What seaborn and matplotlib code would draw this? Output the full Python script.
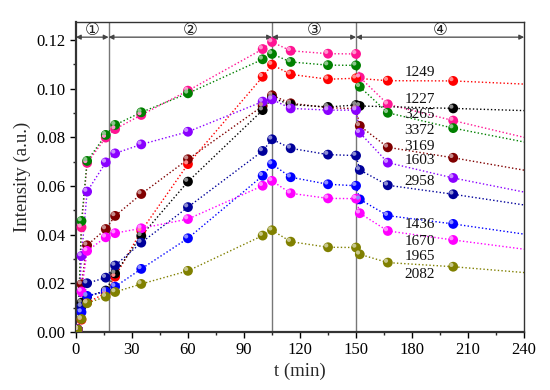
import numpy as np
import pandas as pd
import matplotlib
matplotlib.use("Agg")
import matplotlib.pyplot as plt
import seaborn as sns
from matplotlib.transforms import offset_copy
from matplotlib.ticker import MultipleLocator

nan = np.nan
t = [1, 3, 6, 16, 21, 35, 60, 100, 105, 115, 135, 150, 152, 167, 202, 240]

pink    = [0.001, 0.043, 0.0695, 0.0799, 0.0834, 0.0892, 0.0992, 0.1163, 0.1192, 0.1156, 0.1144, 0.1143, 0.1047, 0.0936, 0.0869, 0.0800]
green   = [0.001, 0.0456, 0.0703, 0.0810, 0.0851, 0.0903, 0.0981, 0.1121, 0.1143, 0.1110, 0.1097, 0.1096, 0.1008, 0.0901, 0.0838, 0.0781]
red     = [0.001, 0.005, 0.012, 0.016, 0.0227, 0.0415, 0.0690, 0.1049, 0.1099, 0.1059, 0.1039, 0.1043, nan, 0.1033, 0.1032, 0.1019]
brown   = [0.001, 0.0196, 0.0356, 0.0423, 0.0477, 0.0567, 0.0710, 0.0929, 0.0973, 0.0940, 0.0922, 0.0918, 0.0847, 0.0759, 0.0716, 0.0665]
black   = [0.001, 0.012, 0.0145, 0.017, 0.024, 0.0395, 0.0618, 0.0912, 0.0962, 0.0935, 0.0925, 0.0933, 0.0929, nan, 0.0919, 0.0910]
purple  = [0.001, 0.0312, 0.0577, 0.0697, 0.0734, 0.0771, 0.0823, 0.0947, 0.0956, 0.0919, 0.0912, 0.0912, 0.0819, 0.0696, 0.0633, 0.0575]
navy    = [0.001, 0.0104, 0.0200, 0.0223, 0.0273, 0.0367, 0.0513, 0.0744, 0.0792, 0.0755, 0.0729, 0.0725, 0.0666, 0.0603, 0.0566, 0.0522]
blue    = [0.001, 0.0081, 0.0148, 0.0166, 0.0186, 0.0259, 0.0385, 0.0642, 0.0690, 0.0636, 0.0607, 0.0601, 0.0545, 0.0478, 0.0444, 0.0402]
magenta = [0.001, 0.0166, 0.0333, 0.0389, 0.0406, 0.0426, 0.0464, 0.0601, 0.0621, 0.0570, 0.0549, 0.0548, 0.0488, 0.0415, 0.0378, 0.0340]
olive   = [0.001, 0.0053, 0.0118, 0.0145, 0.0164, 0.0197, 0.0251, 0.0396, 0.0418, 0.0371, 0.0348, 0.0347, 0.0319, 0.0285, 0.0268, 0.0244]

series = {"pink": pink, "green": green, "red": red, "brown": brown, "black": black,
          "purple": purple, "navy": navy, "blue": blue, "magenta": magenta, "olive": olive}
colors = {"pink": "#FF1493", "green": "#008000", "red": "#FF0000", "brown": "#800000",
          "black": "#000000", "purple": "#8A00FF", "navy": "#00009A", "blue": "#0000FF",
          "magenta": "#FF00FF", "olive": "#808000"}

band_labels = ["1249", "1227", "3265", "3372", "3169", "1603", "2958", "1436", "1670", "1965", "2082"]
band_y = [0.1067, 0.0956, 0.0892, 0.0827, 0.0764, 0.0704, 0.0618, 0.0442, 0.0372, 0.0310, 0.0237]
stage_labels = ["①", "②", "③", "④"]
stage_bounds = [0, 17.5, 105, 150, 240]
xticks = [0, 30, 60, 90, 120, 150, 180, 210, 240]
yticks = [0.00, 0.02, 0.04, 0.06, 0.08, 0.10, 0.12]

rows = []
for name, vals in series.items():
    for ti, v in zip(t, vals):
        if not np.isnan(v):
            rows.append({"t": ti, "I": v, "band": name})
df = pd.DataFrame(rows)

sns.set_theme(style="ticks")
plt.rcParams["font.family"] = ["Liberation Serif", "DejaVu Sans"]

fig = plt.figure(figsize=(5.5, 3.9), dpi=100)
ax = fig.add_axes([0.138, 0.149, 0.815, 0.795])

sns.lineplot(data=df, x="t", y="I", hue="band", palette=colors, estimator=None,
             sort=True, linestyle=(0, (1, 1.6)), linewidth=1.0, legend=False, ax=ax, zorder=2)
pts = df[df["t"] < 240]
sns.scatterplot(data=pts, x="t", y="I", hue="band", palette=colors, s=50,
                edgecolor="none", legend=False, ax=ax, zorder=3)
# specular highlights
hl = offset_copy(ax.transData, fig=fig, x=-1.3, y=1.3, units="points")
for name in series:
    sub = pts[pts["band"] == name]
    c = np.array(matplotlib.colors.to_rgb(colors[name]))
    light = 0.45 * c + 0.55
    ax.scatter(sub["t"], sub["I"], s=9, color=light, edgecolor="none", transform=hl, zorder=4)

ax.set_xlim(0, 240)
ax.set_ylim(0, 0.1275)
ax.set_xticks(xticks)
ax.set_yticks(yticks)
ax.xaxis.set_minor_locator(MultipleLocator(15))
ax.yaxis.set_minor_locator(MultipleLocator(0.01))
ax.yaxis.set_major_formatter(matplotlib.ticker.FormatStrFormatter("%.2f"))
ax.tick_params(axis="both", which="major", direction="out", length=4, width=1, labelsize=12, colors="black")
ax.tick_params(axis="both", which="minor", direction="out", length=2.5, width=1)
ax.tick_params(top=False, right=False, which="both")
for sp in ax.spines.values():
    sp.set_visible(True)
    sp.set_linewidth(1.0)
    sp.set_color("#333333")
ax.spines["left"].set_linewidth(1.6)
ax.spines["bottom"].set_linewidth(1.6)

ax.set_xlabel("t (min)", fontsize=13.5, labelpad=3)
ax.set_ylabel("Intensity (a.u.)", fontsize=13.5, labelpad=4)

for xb in stage_bounds[1:-1]:
    ax.axvline(xb, color="#777777", linewidth=1.0, zorder=1)

for i, lab in enumerate(stage_labels):
    a, b = stage_bounds[i], stage_bounds[i + 1]
    ax.annotate("", xy=(a, 0.1212), xytext=(b, 0.1212),
                arrowprops=dict(arrowstyle="<|-|>", color="#444444", lw=0.9,
                                mutation_scale=7, shrinkA=0, shrinkB=0))
    ax.text((a + b) / 2, 0.1243, lab, ha="center", va="center", fontsize=12,
            family=["DejaVu Sans"], color="#222222")

for lab, yv in zip(band_labels, band_y):
    ax.text(184, yv, lab, ha="center", va="center", fontsize=11, color="#111111", zorder=5)

fig.savefig("out.png", dpi=100)
